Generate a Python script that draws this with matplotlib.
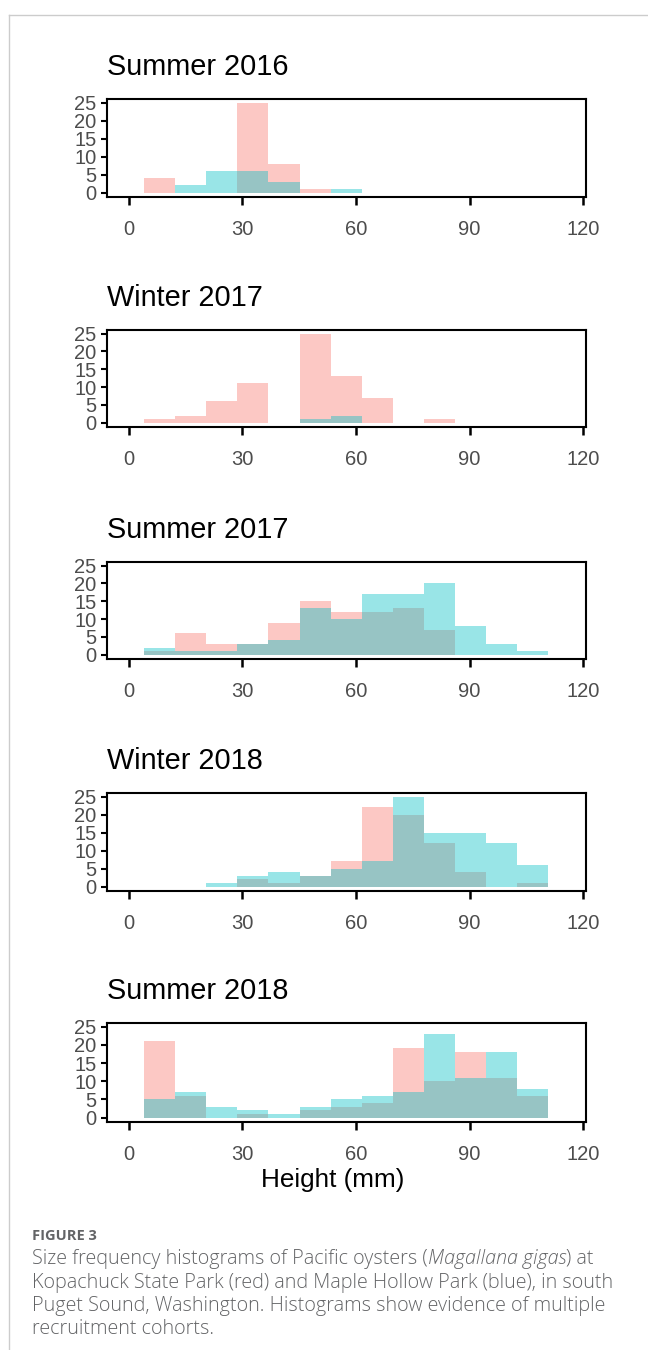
import matplotlib
matplotlib.use("Agg")
import matplotlib.pyplot as plt
from matplotlib.lines import Line2D
import numpy as np

# histogram bin breaks (mm)
bin_edges = [4.0, 12.3, 20.4, 28.7, 36.9, 45.2, 53.3, 61.5, 69.8, 78.0, 86.2, 94.3, 102.6, 110.8]

seasons = ["Summer 2016", "Winter 2017", "Summer 2017", "Winter 2018", "Summer 2018"]

# Kopachuck State Park (red)
kopachuck = [
    [4, 0, 0, 25, 8, 1, 0, 0, 0, 0, 0, 0, 0],
    [1, 2, 6, 11, 0, 25, 13, 7, 0, 1, 0, 0, 0],
    [1, 6, 3, 3, 9, 15, 12, 12, 13, 7, 0, 0, 0],
    [0, 0, 0, 2, 1, 3, 7, 22, 20, 12, 4, 0, 1],
    [21, 6, 0, 1, 0, 2, 3, 4, 19, 10, 18, 11, 6],
]
# Maple Hollow Park (blue)
maple_hollow = [
    [0, 2, 6, 6, 3, 0, 1, 0, 0, 0, 0, 0, 0],
    [0, 0, 0, 0, 0, 1, 2, 0, 0, 0, 0, 0, 0],
    [2, 1, 1, 3, 4, 13, 10, 17, 17, 20, 8, 3, 1],
    [0, 0, 1, 3, 4, 3, 5, 7, 25, 15, 15, 12, 6],
    [5, 7, 3, 2, 1, 3, 5, 6, 7, 23, 11, 18, 8],
]

x_ticks = [0, 30, 60, 90, 120]
y_ticks = [0, 5, 10, 15, 20, 25]

RED = "#F8766D"
BLUE = "#00BFC4"

W, H = 648, 1350
fig = plt.figure(figsize=(W / 100, H / 100), dpi=100)

# page frame lines
fig.add_artist(Line2D([9 / W, 9 / W], [0, 1 - 14.5 / H], color="#cccccc", lw=1.0))
fig.add_artist(Line2D([9 / W, 1], [1 - 14.5 / H, 1 - 14.5 / H], color="#cccccc", lw=1.0))

# panel boxes in pixels (top, bottom)
boxes = [(99, 197), (330, 427), (562, 659), (793, 891), (1023, 1122)]
left_px, right_px = 107, 586

edges = np.array(bin_edges)
widths = np.diff(edges)

for i, (top, bot) in enumerate(boxes):
    ax = fig.add_axes([left_px / W, 1 - bot / H, (right_px - left_px) / W, (bot - top) / H])
    ax.bar(edges[:-1], kopachuck[i], width=widths, align="edge", color=RED, alpha=0.4, linewidth=0)
    ax.bar(edges[:-1], maple_hollow[i], width=widths, align="edge", color=BLUE, alpha=0.4, linewidth=0)
    ax.set_xlim(-5.7, 120.7)
    ax.set_ylim(-1.2, 26.0)
    ax.set_xticks(x_ticks)
    ax.set_yticks(y_ticks)
    for s in ax.spines.values():
        s.set_linewidth(1.5)
        s.set_color("black")
    ax.tick_params(axis="y", length=4.5, width=1.5, pad=3, labelsize=14.5, labelcolor="#4d4d4d")
    ax.tick_params(axis="x", length=5.5, width=1.8, pad=11, labelsize=14.5, labelcolor="#4d4d4d")
    ax.set_title(seasons[i], loc="left", fontsize=20.8, pad=17, fontfamily="Liberation Sans")
    for lab in ax.get_xticklabels() + ax.get_yticklabels():
        lab.set_fontfamily("Liberation Sans")
    if i == len(boxes) - 1:
        ax.set_xlabel("Height (mm)", fontsize=18.8, fontfamily="Liberation Sans", labelpad=1)
        ax.xaxis.set_label_coords(0.472, -0.46)

# caption
cap_color = "#636466"
fig.text(32 / W, 1 - 1240 / H, "FIGURE 3", fontsize=10.5, color=cap_color, fontweight="bold",
         fontfamily="Open Sans", va="baseline")

renderer = fig.canvas.get_renderer()


def write_line(y_px, parts):
    x = 32
    for txt, style in parts:
        t = fig.text(x / W, 1 - y_px / H, txt, fontsize=14.2, color=cap_color, fontstyle=style,
                     fontfamily="Open Sans", fontweight="light", va="baseline")
        x += t.get_window_extent(renderer).width


write_line(1264, [("Size frequency histograms of Pacific oysters (", "normal"),
                  ("Magallana gigas", "italic"), (") at", "normal")])
write_line(1288, [("Kopachuck State Park (red) and Maple Hollow Park (blue), in south", "normal")])
write_line(1311, [("Puget Sound, Washington. Histograms show evidence of multiple", "normal")])
write_line(1334, [("recruitment cohorts.", "normal")])

fig.savefig("out.png", dpi=100, facecolor="white")
